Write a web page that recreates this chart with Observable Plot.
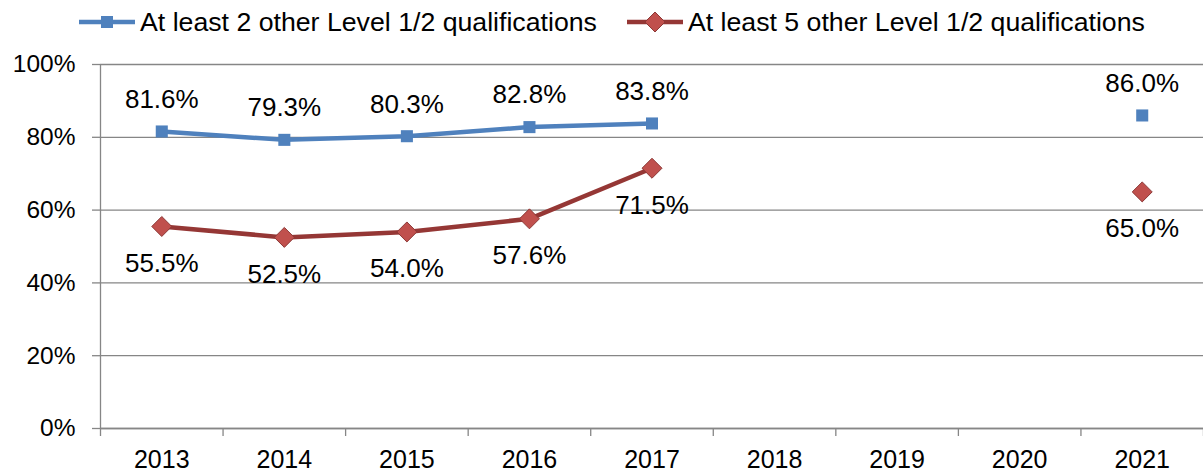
<!DOCTYPE html>
<html>
<head>
<meta charset="utf-8">
<script src="https://cdn.jsdelivr.net/npm/d3@7"></script>
<script src="https://cdn.jsdelivr.net/npm/@observablehq/plot@0.6"></script>
<style>
  body { margin: 0; background: white; font-family: "Liberation Sans", Arial, sans-serif; }
  #legend { height: 44px; display: flex; align-items: center; padding-left: 79px; font-size: 26.7px; color: #000; box-sizing: border-box; }
  .item { display: flex; align-items: center; }
  .item svg { margin-right: 5px; }
  .gap { width: 30px; }
</style>
</head>
<body>
<div id="legend"></div>
<div id="chart"></div>
<script>
const years = [2013, 2014, 2015, 2016, 2017, 2018, 2019, 2020, 2021];
const atLeast2 = [81.6, 79.3, 80.3, 82.8, 83.8, null, null, null, 86.0];
const atLeast5 = [55.5, 52.5, 54.0, 57.6, 71.5, null, null, null, 65.0];
const yTicks = [0, 20, 40, 60, 80, 100];
const seriesNames = ["At least 2 other Level 1/2 qualifications", "At least 5 other Level 1/2 qualifications"];
const colors = { blueLine: "#4F81BD", blueMark: "#4F81BD", redLine: "#953735", redMark: "#C0504D", redEdge: "#8C3836", axis: "#868686" };

const rows = years.map((year, i) => ({ year, v2: atLeast2[i], v5: atLeast5[i] }));
const boundaries = years.map(y => y - 0.5).concat([years[years.length - 1] + 0.5]);
const fmt = v => v.toFixed(1) + "%";

// Legend
const legend = document.getElementById("legend");
legend.innerHTML = `
  <div class="item">
    <svg width="56" height="24"><line x1="0" x2="56" y1="12" y2="12" stroke="${colors.blueLine}" stroke-width="4.5"/><rect x="22" y="6" width="12" height="12" fill="${colors.blueMark}"/></svg>
    <span>${seriesNames[0]}</span>
  </div>
  <div class="gap"></div>
  <div class="item">
    <svg width="56" height="24"><line x1="0" x2="56" y1="12" y2="12" stroke="${colors.redLine}" stroke-width="4.5"/><polygon points="28,2 38,12 28,22 18,12" fill="${colors.redMark}" stroke="${colors.redEdge}" stroke-width="1"/></svg>
    <span>${seriesNames[1]}</span>
  </div>`;

const chart = Plot.plot({
  width: 1203,
  height: 429,
  marginLeft: 100,
  marginRight: 0,
  marginTop: 20,
  marginBottom: 45,
  x: { domain: [years[0] - 0.5, years[years.length - 1] + 0.5] },
  y: { domain: [0, 100] },
  style: { fontFamily: "'Liberation Sans', Arial, sans-serif", fontSize: "26px", color: "#000", background: "white" },
  marks: [
    Plot.gridY(yTicks, { stroke: colors.axis, strokeOpacity: 1, strokeWidth: 1.3 }),
    Plot.axisY({ ticks: yTicks, tickSize: 8, tickPadding: 17, tickFormat: d => d + "%", fontSize: 24.5, stroke: colors.axis, strokeWidth: 1.3, fill: "#000", label: null }),
    Plot.axisX({ ticks: boundaries, tickSize: 8, tickFormat: () => "", stroke: colors.axis, strokeWidth: 1.3, label: null }),
    Plot.axisX({ ticks: years, tickSize: 0, tickPadding: 22, tickFormat: d => String(d), fontSize: 25, fill: "#000", label: null }),
    Plot.ruleY([0], { stroke: colors.axis, strokeWidth: 1.3 }),
    Plot.ruleX([years[0] - 0.5], { y1: 0, y2: 100, stroke: colors.axis, strokeWidth: 1.3 }),
    Plot.line(rows, { x: "year", y: "v2", stroke: colors.blueLine, strokeWidth: 4.5 }),
    Plot.line(rows, { x: "year", y: "v5", stroke: colors.redLine, strokeWidth: 4.5 }),
    Plot.dot(rows, { x: "year", y: "v2", symbol: "square", r: 6.8, fill: colors.blueMark, stroke: "none" }),
    Plot.dot(rows, { x: "year", y: "v5", symbol: "diamond2", r: 9, fill: colors.redMark, stroke: colors.redEdge, strokeWidth: 1 }),
    Plot.text(rows.filter(d => d.v2 != null), { x: "year", y: "v2", text: d => fmt(d.v2), dy: -32, fontSize: 26, fill: "#000" }),
    Plot.text(rows.filter(d => d.v5 != null), { x: "year", y: "v5", text: d => fmt(d.v5), dy: 37, fontSize: 26, fill: "#000" })
  ]
});
document.getElementById("chart").appendChild(chart);
</script>
</body>
</html>
